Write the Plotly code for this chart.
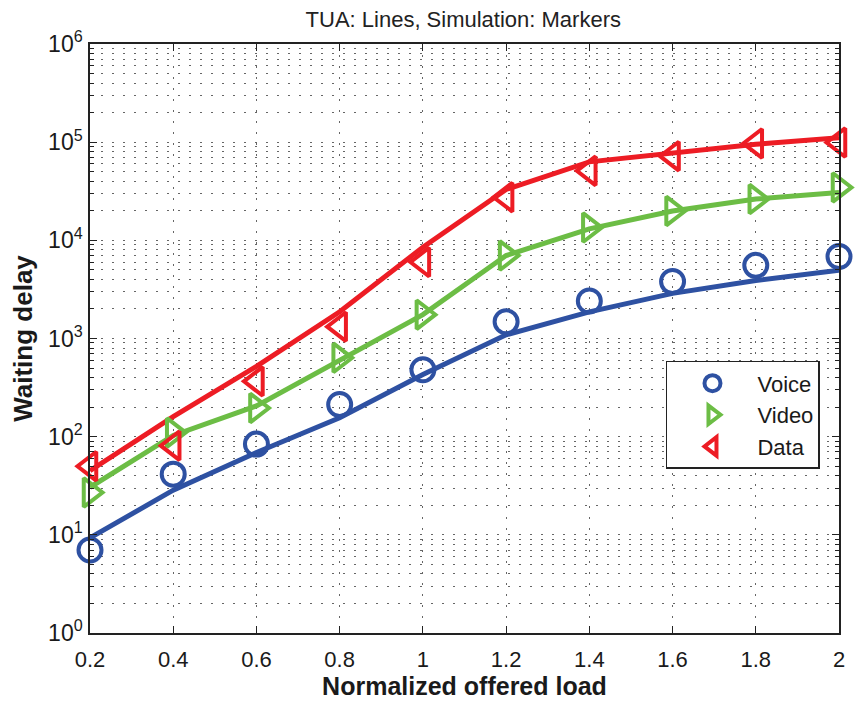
import plotly.graph_objects as go

load = [0.2, 0.4, 0.6, 0.8, 1.0, 1.2, 1.4, 1.6, 1.8, 2.0]

voice_tua = [9.3, 28.5, 69, 156, 430, 1090, 1870, 2880, 3900, 4950]
video_tua = [30.5, 103, 206, 610, 1750, 7000, 13100, 19900, 26300, 30800]
data_tua = [45, 160, 520, 1870, 8500, 33000, 63000, 78000, 95000, 111000]

voice_sim = [7.0, 41.5, 84, 213, 480, 1480, 2410, 3800, 5560, 6850]
video_sim = [27, 110, 196, 635, 1750, 7000, 13500, 19900, 26300, 34600]
data_sim = [50, 81, 366, 1320, 6000, 27500, 51000, 72000, 97000, 99000]

y_tickvals = [1, 10, 100, 1000, 10000, 100000, 1000000]
y_ticktext = ["10<sup>%d</sup>" % i for i in range(7)]
y_minorvals = [m * d for d in y_tickvals[:-1] for m in range(2, 10)]

names = ["Voice", "Video", "Data"]
colors = ["#2E51A2", "#6CBD45", "#ED1C24"]
symbols = ["circle-open", "triangle-right-open", "triangle-left-open"]
sizes = [23, 25, 25]

fig = go.Figure()
for tua, c in zip([voice_tua, video_tua, data_tua], colors):
    fig.add_trace(go.Scatter(x=load, y=tua, mode="lines",
                             line=dict(color=c, width=5), showlegend=False))
for sim, n, c, s, sz in zip([voice_sim, video_sim, data_sim], names, colors, symbols, sizes):
    fig.add_trace(go.Scatter(x=load, y=sim, mode="markers", name=n, cliponaxis=False,
                             marker=dict(symbol=s, size=sz, color=c,
                                         line=dict(color=c, width=4))))

grid_dash = "2px,9px"
fig.update_layout(
    width=857, height=704,
    margin=dict(l=90, r=15, t=44, b=67),
    paper_bgcolor="white", plot_bgcolor="white",
    font=dict(family="Liberation Sans, Arial, sans-serif", color="#1a1a1a"),
    title=dict(text="TUA: Lines, Simulation: Markers", x=0.5406, xanchor="center",
               y=0.973, yanchor="middle", font=dict(size=22, color="#222")),
    legend=dict(x=0.769, y=0.462, xanchor="left", yanchor="top",
                bgcolor="white", bordercolor="#222", borderwidth=1.5,
                font=dict(size=22, color="#1a1a1a"), itemwidth=80,
                tracegroupgap=0),
)
fig.update_xaxes(
    range=[0.2, 2.0], dtick=0.2, tick0=0.2,
    showline=True, linecolor="#222", linewidth=1.5, mirror="ticks",
    ticks="inside", ticklen=7, tickcolor="#222",
    showgrid=True, gridcolor="#666", griddash=grid_dash, gridwidth=1,
    zeroline=False, ticklabelstandoff=6,
    tickfont=dict(size=22),
    title=dict(text="<b>Normalized offered load</b>", font=dict(size=25), standoff=2),
)
fig.update_yaxes(
    type="log", range=[0, 6], tickmode="array", tickvals=y_tickvals, ticktext=y_ticktext,
    showline=True, linecolor="#222", linewidth=1.5, mirror="ticks",
    ticks="inside", ticklen=7, tickcolor="#222",
    showgrid=True, gridcolor="#666", griddash=grid_dash, gridwidth=1,
    minor=dict(tickmode="array", tickvals=y_minorvals, ticks="inside", ticklen=4,
               tickcolor="#222", showgrid=True,
               gridcolor="#666", griddash=grid_dash, gridwidth=1),
    zeroline=False, ticklabelstandoff=1,
    tickfont=dict(size=23),
    title=dict(text="<b>Waiting delay</b>", font=dict(size=26), standoff=8),
)

fig.write_html("out.html")
